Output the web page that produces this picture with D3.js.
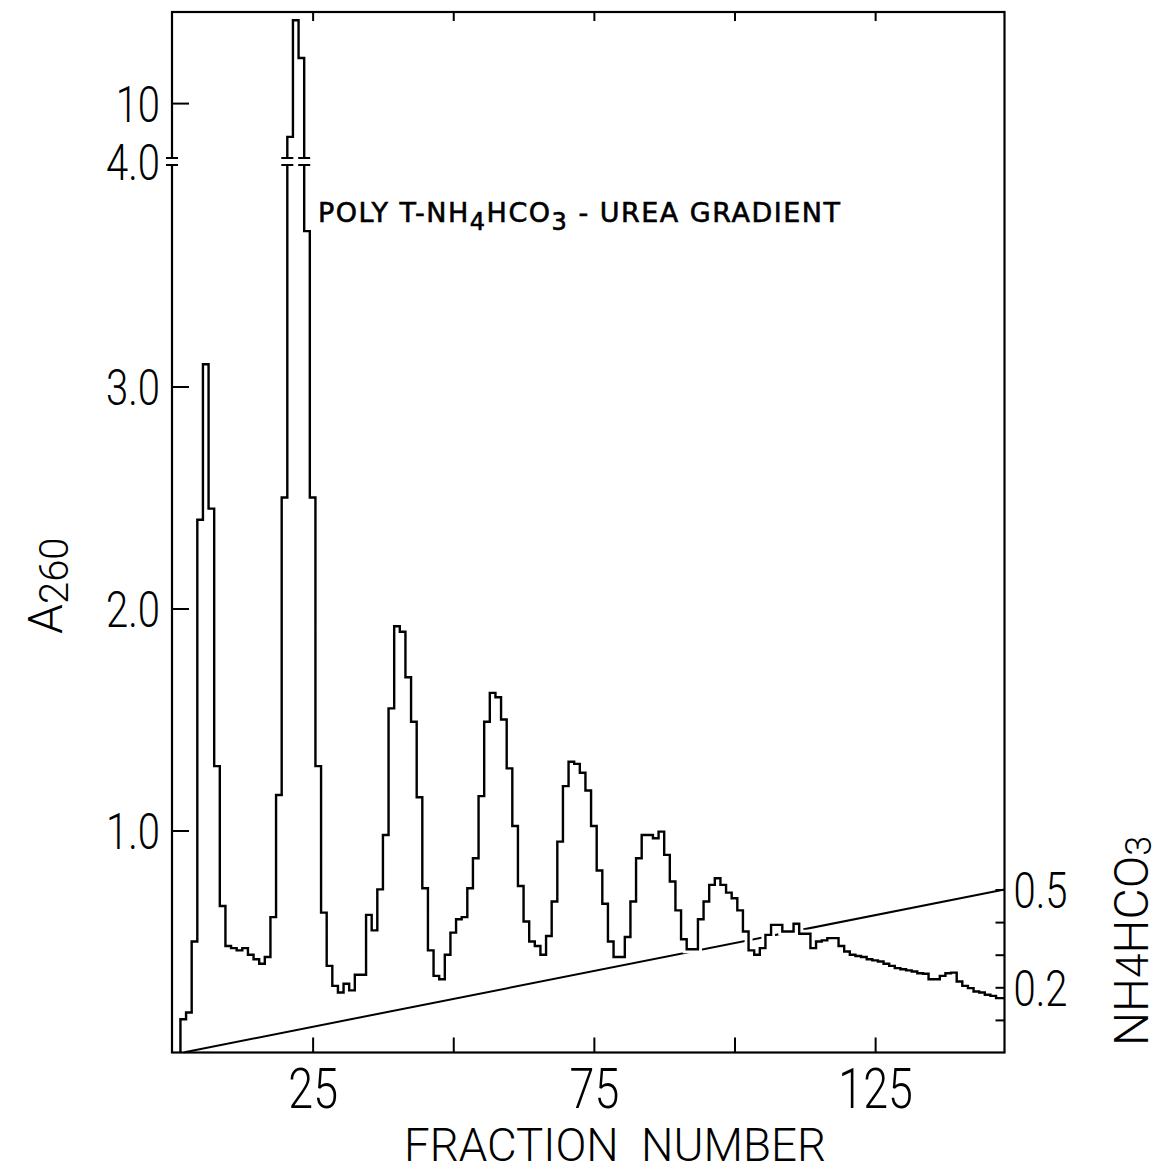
<!DOCTYPE html>
<html><head><meta charset="utf-8">
<script src="https://cdn.jsdelivr.net/npm/d3@7"></script>
<style>
body{margin:0;background:#fff}
text{fill:#000}
</style>
</head><body>
<svg id="chart" width="1160" height="1176"></svg>
<script>
// ---- data ----
const firstFraction = 2;
const a260 = [
  0.15,0.18,0.50,2.40,3.10,2.45,1.29,0.66,0.48,0.47,
  0.46,0.47,0.44,0.42,0.40,0.43,0.61,1.16,2.50,6.7,
  18.1,14.4,3.70,2.50,1.29,0.63,0.39,0.30,0.27,0.31,
  0.28,0.35,0.35,0.62,0.55,0.735,0.98,1.55,1.92,1.895,
  1.69,1.49,1.15,0.74,0.46,0.345,0.33,0.44,0.54,0.60,
  0.61,0.74,0.875,1.155,1.49,1.62,1.60,1.50,1.28,1.02,
  0.75,0.59,0.50,0.48,0.44,0.525,0.68,0.95,1.20,1.31,
  1.30,1.26,1.18,1.02,0.82,0.67,0.50,0.43,0.43,0.52,
  0.68,0.875,0.98,0.98,0.965,0.995,0.89,0.77,0.64,0.51,
  0.465,0.465,0.60,0.68,0.755,0.785,0.755,0.72,0.695,0.64,
  0.545,0.46,0.44,0.47,0.53,0.575,0.575,0.545,0.545,0.58,
  0.535,0.535,0.47,0.50,0.505,0.515,0.515,0.48,0.455,0.44,
  0.435,0.43,0.42,0.415,0.41,0.40,0.39,0.38,0.375,0.37,
  0.365,0.357,0.355,0.33,0.33,0.345,0.357,0.36,0.32,0.30,
  0.29,0.275,0.27,0.26,0.255,0.245
];
const fractions = a260.map((v,i) => firstFraction + i);
const gradientFractions = [2, 148];
const gradientConc = [0, 0.5];

const xTicks = [25, 50, 75, 100, 125];
const xTickLabels = ["25", "", "75", "", "125"];
const yTicks = [1, 2, 3, 10];
const yTickLabels = ["1.0", "2.0", "3.0", "10"];
const yBreakValue = 4;
const yBreakLabel = "4.0";
const rightTicks = [0.1, 0.2, 0.3, 0.4, 0.5];
const rightTickLabels = ["", "0.2", "", "", "0.5"];
const breakFractions = [20.5, 23.5];

// ---- layout ----
const svg = d3.select("#chart");
const L = 172, R = 1004.5, T = 12, B = 1052.5;
const x = d3.scaleLinear([0, 148], [L, R]);
const y = d3.scaleLinear([0, 4, 18.9], [B, 164.5, T]);
const yR = d3.scaleLinear([0, 0.5], [B, 889.5]);
const thinFont = "Roboto, 'Open Sans', 'DejaVu Sans', sans-serif";

// gradient line
const gradPts = gradientFractions.map((f, i) => [f, gradientConc[i]]);
svg.append("path")
  .attr("d", d3.line().x(d => x(d[0])).y(d => yR(d[1]))(gradPts))
  .attr("fill", "none").attr("stroke", "#000").attr("stroke-width", 2);

// histogram (step)
const pts = [[fractions[0] - 0.5, 0]];
fractions.forEach((f, i) => pts.push([f - 0.5, a260[i]]));
pts.push([148, a260[a260.length - 1]]);
const stepLine = d3.line().x(d => x(d[0])).y(d => y(d[1])).curve(d3.curveStepAfter);
svg.append("path").attr("d", stepLine(pts))
  .attr("fill", "none").attr("stroke", "#fff").attr("stroke-width", 8);
svg.append("path").attr("d", stepLine(pts))
  .attr("fill", "none").attr("stroke", "#000").attr("stroke-width", 2.4)
  .attr("stroke-linejoin", "miter");

// frame
svg.append("rect").attr("x", L).attr("y", T).attr("width", R - L).attr("height", B - T)
  .attr("fill", "none").attr("stroke", "#000").attr("stroke-width", 2.2);

// axes
function styleAxis(g) {
  g.select(".domain").remove();
  g.selectAll(".tick line").attr("stroke", "#000").attr("stroke-width", 2);
  g.selectAll("text").attr("font-family", thinFont).attr("font-weight", 300).attr("fill", "#000");
}
const gx = svg.append("g").attr("transform", `translate(0,${B})`)
  .call(d3.axisBottom(x).tickValues(xTicks).tickSizeInner(-15).tickSizeOuter(0)
    .tickPadding(16).tickFormat((d, i) => xTickLabels[i]));
styleAxis(gx); gx.selectAll("text").attr("font-size", 56);

const gt = svg.append("g").attr("transform", `translate(0,${T})`)
  .call(d3.axisTop(x).tickValues(xTicks).tickSizeInner(-9).tickSizeOuter(0).tickFormat(""));
styleAxis(gt);

const gy = svg.append("g").attr("transform", `translate(${L},0)`)
  .call(d3.axisLeft(y).tickValues(yTicks).tickSizeInner(-17).tickSizeOuter(0)
    .tickPadding(12).tickFormat((d, i) => yTickLabels[i]));
styleAxis(gy); gy.selectAll("text").attr("font-size", 50).attr("dy", "0.36em");

const gr = svg.append("g").attr("transform", `translate(${R},0)`)
  .call(d3.axisRight(yR).tickValues(rightTicks).tickSizeInner(-9).tickSizeOuter(0)
    .tickPadding(9).tickFormat((d, i) => rightTickLabels[i]));
styleAxis(gr); gr.selectAll("text").attr("font-size", 50).attr("dy", "0.36em");

// axis break on left axis and on the tall peak
const by = y(yBreakValue) - 3;
function breakMark(cx, w) {
  svg.append("rect").attr("x", cx - w).attr("y", by - 2.5).attr("width", 2 * w).attr("height", 5).attr("fill", "#fff");
  [by - 3.5, by + 3.5].forEach(yy => svg.append("line")
    .attr("x1", cx - w).attr("x2", cx + w).attr("y1", yy).attr("y2", yy)
    .attr("stroke", "#000").attr("stroke-width", 2));
}
breakMark(L, 6);
breakFractions.forEach(f => breakMark(x(f), 6));
svg.append("text").attr("x", L - 12).attr("y", by).attr("dy", "0.36em")
  .attr("text-anchor", "end").attr("font-family", thinFont).attr("font-weight", 300)
  .attr("font-size", 50).attr("class", "cond").text(yBreakLabel);

// condense thin labels
svg.selectAll(".tick text, text.cond").each(function () {
  const n = this.getComputedTextLength();
  if (n > 0) d3.select(this).attr("textLength", n * 0.8).attr("lengthAdjust", "spacingAndGlyphs");
});

// title
const title = svg.append("text").attr("x", 318).attr("y", 222)
  .attr("font-family", "'DejaVu Sans', sans-serif").attr("font-size", 27).attr("letter-spacing", 1.5)
  .attr("stroke", "#000").attr("stroke-width", 0.6);
title.append("tspan").text("POLY T-NH");
title.append("tspan").attr("dy", 8).attr("font-size", 24).text("4");
title.append("tspan").attr("dy", -8).text("HCO");
title.append("tspan").attr("dy", 8).attr("font-size", 24).text("3");
title.append("tspan").attr("dy", -8).text(" - UREA GRADIENT");

// x label
svg.append("text").attr("x", 615).attr("y", 1161).attr("text-anchor", "middle")
  .attr("font-family", thinFont).attr("font-weight", 300).attr("font-size", 46)
  .attr("textLength", 422).attr("lengthAdjust", "spacingAndGlyphs")
  .text("FRACTION\u00a0\u00a0NUMBER");

// y label A260
const yl = svg.append("text").attr("transform", "translate(62,634) rotate(-90)")
  .attr("font-family", thinFont).attr("font-weight", 300).attr("font-size", 48);
yl.append("tspan").text("A");
yl.append("tspan").attr("dy", 6).attr("font-size", 40).text("260");

// right label NH4HCO3
const rl = svg.append("text").attr("transform", "translate(1148,1046) rotate(-90)")
  .attr("font-family", thinFont).attr("font-weight", 300).attr("font-size", 48);
rl.append("tspan").text("NH");
rl.append("tspan").attr("font-size", 44).text("4");
rl.append("tspan").text("HCO");
rl.append("tspan").attr("dy", 3).attr("font-size", 36).text("3");
</script>
</body></html>
